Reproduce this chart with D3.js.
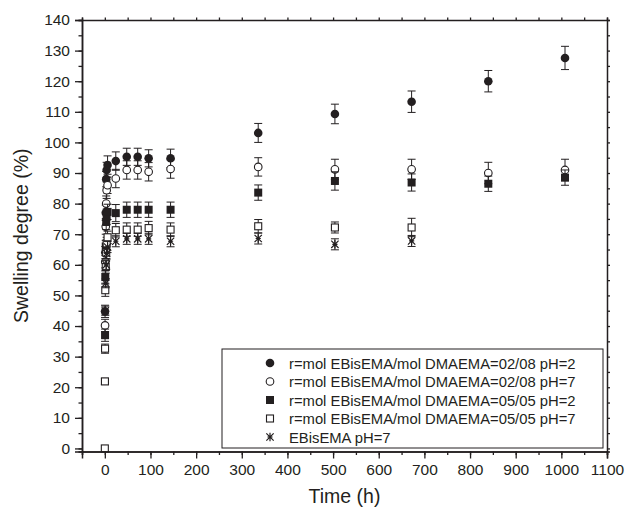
<!DOCTYPE html>
<html>
<head>
<meta charset="utf-8">
<script src="https://cdn.jsdelivr.net/npm/d3@7"></script>
<style>
  html, body { margin: 0; padding: 0; background: #fff; }
  svg { display: block; font-family: "Liberation Sans", Arial, Helvetica, sans-serif; }
</style>
</head>
<body>
<svg id="chart" width="627" height="511"></svg>
<script>
// Swelling degree (%) versus time (h) for the hydrogel series
const times0208 = [0.5, 1, 2, 3, 4, 6, 24, 48, 72, 96, 144, 336, 504, 672, 840, 1008];
const swell0208pH2 = [44.8, 64, 77, 88, 91, 92.6, 93.9, 95.3, 95.3, 94.8, 94.8, 103.1, 109.3, 113.3, 120, 127.6];
const err0208pH2   = [2, 2, 2.5, 2.5, 2.5, 3, 3, 2.8, 2.8, 2.8, 3, 3.1, 3.2, 3.5, 3.5, 3.8];
const swell0208pH7 = [40.2, 61, 72.5, 80, 84.4, 86, 88.2, 91, 91, 90.4, 91.3, 92, 91.2, 91.2, 90, 91];
const err0208pH7   = [2, 2, 2.5, 2.5, 2.7, 2.7, 3, 3, 3, 3, 3, 3, 3.3, 3.3, 3.5, 3.5];

const times0505pH2 = [0.5, 1, 2, 3, 4, 6, 24, 48, 72, 96, 144, 336, 504, 672, 840, 1008];
const swell0505pH2 = [37, 56, 66, 74, 75.7, 77.3, 76.9, 78, 78, 78, 78, 83.6, 87.4, 86.9, 86.5, 88.5];
const err0505pH2   = [2, 2, 2, 2.5, 2.5, 2.5, 2.8, 2.5, 2.5, 2.5, 2.5, 2.5, 3, 2.8, 2.5, 2.5];

const times0505pH7 = [0, 0.25, 0.5, 1, 2, 3, 4, 6, 24, 48, 72, 96, 144, 336, 504, 672];
const swell0505pH7 = [0, 21.9, 32.6, 51.7, 59.3, 64, 67, 69, 71.3, 71.5, 71.5, 72, 71.5, 72.6, 72.2, 72.2];
const err0505pH7   = [0, 1, 1.5, 2, 2, 2, 2, 2, 2.2, 2.2, 2.2, 2.2, 2.2, 2.2, 1.8, 3];

const timesEBis = [1, 2, 3, 4, 6, 24, 48, 72, 96, 144, 336, 504, 672];
const swellEBis = [45, 54, 60, 63.7, 65.8, 67.7, 68.5, 68.5, 68.5, 67.7, 68.6, 66.7, 67.8];
const errEBis   = [1.5, 1.5, 1.5, 1.8, 1.8, 1.8, 1.8, 1.8, 1.8, 1.8, 1.8, 1.8, 1.8];

const legendLabels = [
  "r=mol EBisEMA/mol DMAEMA=02/08 pH=2",
  "r=mol EBisEMA/mol DMAEMA=02/08 pH=7",
  "r=mol EBisEMA/mol DMAEMA=05/05 pH=2",
  "r=mol EBisEMA/mol DMAEMA=05/05 pH=7",
  "EBisEMA pH=7"
];
const symbolKinds = ["circleFilled", "circleOpen", "squareFilled", "squareOpen", "star"];

const xTickValues = d3.range(0, 1101, 100);
const yTickValues = d3.range(0, 141, 10);
const xMinorValues = d3.range(-50, 1101, 50);
const yMinorValues = d3.range(0, 141, 5);

const seriesList = [
  { t: times0208,    v: swell0208pH2, e: err0208pH2 },
  { t: times0208,    v: swell0208pH7, e: err0208pH7 },
  { t: times0505pH2, v: swell0505pH2, e: err0505pH2 },
  { t: times0505pH7, v: swell0505pH7, e: err0505pH7 },
  { t: timesEBis,    v: swellEBis,    e: errEBis }
].map((s, i) => ({
  label: legendLabels[i],
  kind: symbolKinds[i],
  points: s.t.map((t, j) => ({ t, v: s.v[j], e: s.e[j] }))
}));

const svg = d3.select("#chart");
const L = 82, R = 607, T = 20, B = 451.5;
const x = d3.scaleLinear().domain([-50, 1100]).range([L, R]);
const y = d3.scaleLinear().domain([-1, 140]).range([B, T]);
const ink = "#231f20";

// marker drawing
function drawMarker(g, kind, cx, cy) {
  if (kind === "circleFilled") {
    g.append("circle").attr("cx", cx).attr("cy", cy).attr("r", 4.3).attr("fill", ink);
  } else if (kind === "circleOpen") {
    g.append("circle").attr("cx", cx).attr("cy", cy).attr("r", 3.8)
      .attr("fill", "#fff").attr("stroke", ink).attr("stroke-width", 1.1);
  } else if (kind === "squareFilled") {
    g.append("rect").attr("x", cx - 4).attr("y", cy - 4).attr("width", 8).attr("height", 8).attr("fill", ink);
  } else if (kind === "squareOpen") {
    g.append("rect").attr("x", cx - 3.5).attr("y", cy - 3.5).attr("width", 7).attr("height", 7)
      .attr("fill", "#fff").attr("stroke", ink).attr("stroke-width", 1.1);
  } else {
    const r = 4.3;
    const p = d3.path();
    p.moveTo(cx, cy - r); p.lineTo(cx, cy + r);
    p.moveTo(cx - r * 0.85, cy - r * 0.85); p.lineTo(cx + r * 0.85, cy + r * 0.85);
    p.moveTo(cx - r * 0.85, cy + r * 0.85); p.lineTo(cx + r * 0.85, cy - r * 0.85);
    p.moveTo(cx - r * 0.6, cy); p.lineTo(cx + r * 0.6, cy);
    g.append("path").attr("d", p.toString()).attr("fill", "none").attr("stroke", ink).attr("stroke-width", 1.2);
  }
}

// error bars and markers
const plot = svg.append("g");
seriesList.forEach(s => {
  const g = plot.append("g");
  s.points.forEach(d => {
    if (d.e > 0) {
      const cx = x(d.t), y0 = y(d.v - d.e), y1 = y(d.v + d.e);
      g.append("path")
        .attr("d", `M${cx},${y0}V${y1}M${cx - 4},${y0}H${cx + 4}M${cx - 4},${y1}H${cx + 4}`)
        .attr("fill", "none").attr("stroke", ink).attr("stroke-width", 1);
    }
  });
  s.points.forEach(d => drawMarker(g, s.kind, x(d.t), y(d.v)));
});

// axes
const axFont = "15.5px";
const axBottom = svg.append("g").attr("transform", `translate(0,${B})`)
  .call(d3.axisBottom(x).tickValues(xTickValues).tickSize(7).tickPadding(5).tickFormat(d3.format("d")));
const axBottomMinor = svg.append("g").attr("transform", `translate(0,${B})`)
  .call(d3.axisBottom(x).tickValues(xMinorValues).tickSize(3.5).tickFormat(""));
const axLeft = svg.append("g").attr("transform", `translate(${L},0)`)
  .call(d3.axisLeft(y).tickValues(yTickValues).tickSize(7).tickPadding(5).tickFormat(d3.format("d")));
const axLeftMinor = svg.append("g").attr("transform", `translate(${L},0)`)
  .call(d3.axisLeft(y).tickValues(yMinorValues).tickSize(3.5).tickFormat(""));
const axTop = svg.append("g").attr("transform", `translate(0,${T})`)
  .call(d3.axisTop(x).tickValues(xMinorValues).tickSize(2.5).tickFormat(""));
const axRight = svg.append("g").attr("transform", `translate(${R},0)`)
  .call(d3.axisRight(y).tickValues(yMinorValues).tickSize(3).tickFormat(""));

[axBottom, axBottomMinor, axLeft, axLeftMinor, axTop, axRight].forEach(a => {
  a.select(".domain").attr("stroke", ink).attr("stroke-width", 1.5);
  a.selectAll(".tick line").attr("stroke", ink).attr("stroke-width", 1.3);
  a.selectAll(".tick text").attr("fill", ink).style("font-size", axFont)
    .style("font-family", '"Liberation Sans", Arial, sans-serif');
});

// axis titles
svg.append("text").attr("x", (L + R) / 2).attr("y", 503).attr("text-anchor", "middle")
  .attr("fill", ink).style("font-size", "19.5px").text("Time (h)");
svg.append("text").attr("transform", `translate(28,${(T + B) / 2}) rotate(-90)`)
  .attr("text-anchor", "middle").attr("fill", ink).style("font-size", "19.5px")
  .text("Swelling degree (%)");

// legend
const lg = svg.append("g");
lg.append("rect").attr("x", 222).attr("y", 349).attr("width", 381).attr("height", 99)
  .attr("fill", "#fff").attr("stroke", ink).attr("stroke-width", 1);
seriesList.forEach((s, i) => {
  const cy = 363 + i * 18.5;
  drawMarker(lg, s.kind, 270, cy);
  lg.append("text").attr("x", 289).attr("y", cy + 5.5).attr("fill", ink)
    .style("font-size", "14.8px").text(s.label);
});
</script>
</body>
</html>
